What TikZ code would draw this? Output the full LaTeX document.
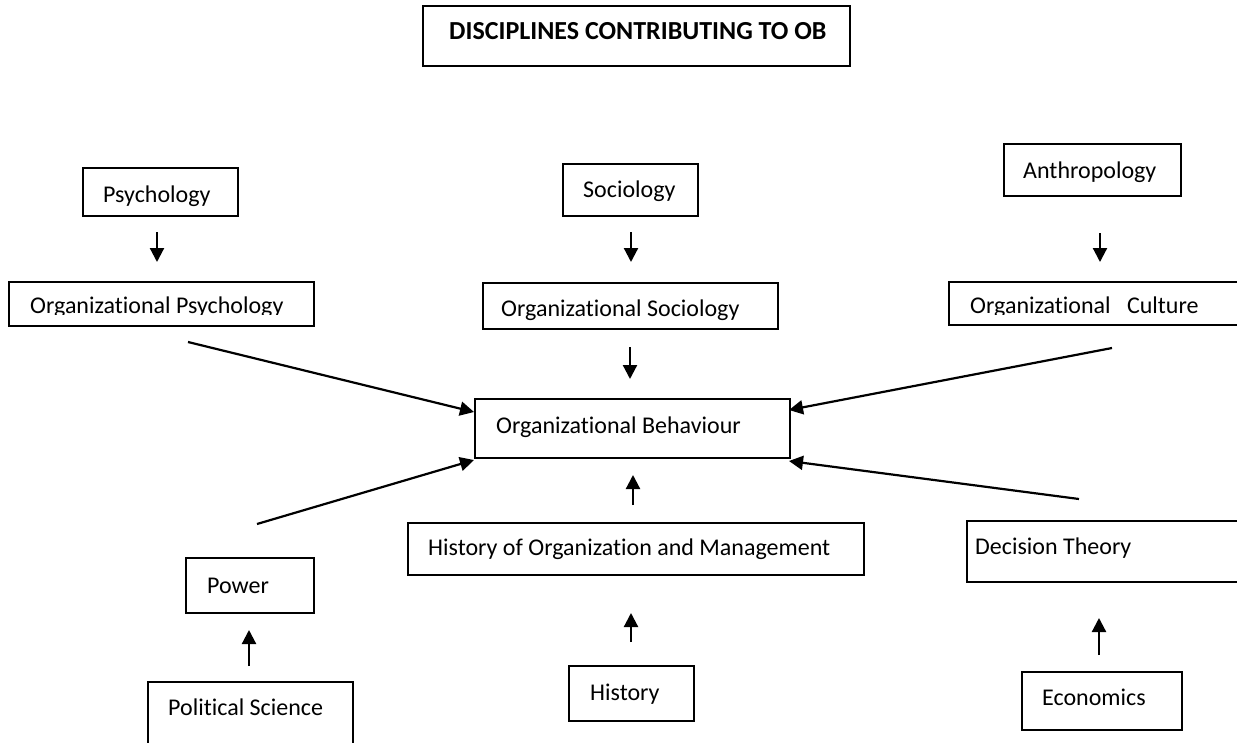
\documentclass[tikz,border=0pt]{standalone}
\usepackage{fontspec}
\setmainfont{Carlito}[Ligatures={NoCommon}]
\usetikzlibrary{arrows.meta}
\begin{document}
\begin{tikzpicture}[x=1pt,y=-1pt,
  box/.style={draw=black,line width=1.6pt,inner sep=0pt,anchor=north west},
  lbl/.style={inner sep=0pt,anchor=base west,font=\fontsize{24}{28}\selectfont},
  arr/.style={line width=2.2pt,-{Triangle[length=14pt,width=14pt]}}]
\useasboundingbox (0,0) rectangle (1237,742);
% title
\node[box,minimum width=427,minimum height=60] (title) at (422,5) {};
\node[lbl,font=\fontsize{26}{30}\selectfont\bfseries] (titlet) at (449,39) {DISCIPLINES CONTRIBUTING TO OB};
% top row
\node[box,minimum width=155,minimum height=48] (psy) at (82,167) {};
\node[lbl] (psyt) at (103,202) {Psychology};
\node[box,minimum width=135,minimum height=52] (soc) at (562,163) {};
\node[lbl] (soct) at (583,197) {Sociology};
\node[box,minimum width=177,minimum height=52] (ant) at (1003,143) {};
\node[lbl] (antt) at (1023,178) {Anthropology};
% second row
\node[box,minimum width=305,minimum height=44] (opsy) at (8,281) {};
\begin{scope}
\clip (0,0) rectangle (1237,314);
\node[lbl] (opsyt) at (30,313) {Organizational Psychology};
\node[lbl] (ocult) at (970,313) {Organizational\ \ \ Culture};
\end{scope}
\node[box,minimum width=295,minimum height=46] (osoc) at (482,282) {};
\node[lbl] (osoct) at (501,316) {Organizational Sociology};
\node[box,minimum width=300,minimum height=43] (ocul) at (948,281) {};
% centre
\node[box,minimum width=315,minimum height=59] (ob) at (474,398) {};
\node[lbl] (obt) at (496,433) {Organizational Behaviour};
% lower row
\node[box,minimum width=456,minimum height=52] (hom) at (407,522) {};
\node[lbl] (homt) at (428,555) {History of Organization and Management};
\node[box,minimum width=280,minimum height=61] (dec) at (966,520) {};
\node[lbl] (dect) at (975,554) {Decision Theory};
\node[box,minimum width=128,minimum height=55] (pow) at (185,557) {};
\node[lbl] (powt) at (207,593) {Power};
% bottom row
\node[box,minimum width=205,minimum height=80] (pol) at (147,681) {};
\node[lbl] (polt) at (168,715) {Political Science};
\node[box,minimum width=125,minimum height=55] (his) at (568,665) {};
\node[lbl] (hist) at (590,700) {History};
\node[box,minimum width=160,minimum height=58] (eco) at (1021,671) {};
\node[lbl] (ecot) at (1042,705) {Economics};
% arrow end points
\coordinate (a1s) at (157,232); \coordinate (a1e) at (157,262);
\coordinate (a2s) at (631,232); \coordinate (a2e) at (631,262);
\coordinate (a3s) at (1100,233); \coordinate (a3e) at (1100,262);
\coordinate (a4s) at (630,347); \coordinate (a4e) at (630,379);
\coordinate (l1s) at (188,342); \coordinate (l1e) at (474,412);
\coordinate (l2s) at (1112,348); \coordinate (l2e) at (789,410);
\coordinate (l3s) at (257,524); \coordinate (l3e) at (474,460);
\coordinate (l4s) at (1079,499); \coordinate (l4e) at (789,461);
\coordinate (a5s) at (633,505); \coordinate (a5e) at (633,475);
\coordinate (a6s) at (249,666); \coordinate (a6e) at (249,630);
\coordinate (a7s) at (631,642); \coordinate (a7e) at (631,613);
\coordinate (a8s) at (1099,655); \coordinate (a8e) at (1099,618);
\draw[arr] (a1s) -- (a1e);
\draw[arr] (a2s) -- (a2e);
\draw[arr] (a3s) -- (a3e);
\draw[arr] (a4s) -- (a4e);
\draw[arr] (l1s) -- (l1e);
\draw[arr] (l2s) -- (l2e);
\draw[arr] (l3s) -- (l3e);
\draw[arr] (l4s) -- (l4e);
\draw[arr] (a5s) -- (a5e);
\draw[arr] (a6s) -- (a6e);
\draw[arr] (a7s) -- (a7e);
\draw[arr] (a8s) -- (a8e);
\end{tikzpicture}
\end{document}
